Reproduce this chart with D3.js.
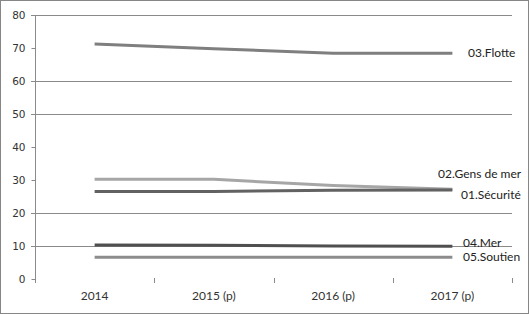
<!DOCTYPE html>
<html>
<head>
  <meta charset="utf-8">
  <title>Line chart</title>
  <style>
    body { margin: 0; background: #fff; }
    svg { display: block; font-family: Lato, "Open Sans", sans-serif; }
  </style>
</head>
<body>
  <svg width="529" height="314"></svg>
  <script src="https://cdn.jsdelivr.net/npm/d3@7"></script>
  <script>
  // data
  var years = ["2014", "2015 (p)", "2016 (p)", "2017 (p)"];
  var seriesNames = ["03.Flotte", "02.Gens de mer", "01.Sécurité", "04.Mer", "05.Soutien"];
  var flotte = [71.2, 69.8, 68.4, 68.4];
  var gensDeMer = [30.2, 30.2, 28.3, 27.2];
  var securite = [26.5, 26.5, 26.9, 27.0];
  var mer = [10.3, 10.2, 10.0, 9.9];
  var soutien = [6.6, 6.6, 6.6, 6.6];
  var yTicks = [0, 10, 20, 30, 40, 50, 60, 70, 80];
  var gridTicks = [10, 20, 50, 60, 80];

  var seriesValues = [flotte, gensDeMer, securite, mer, soutien];
  var colors = ["#7f7f7f", "#a6a6a6", "#626262", "#4f4f4f", "#8c8c8c"];
  // label placement: [x, y shift in px]
  var labelPos = [[468, 0], [438, -15], [461, 5], [463, -4], [463, 0]];

  var svg = d3.select("svg");
  var W = 529, H = 314;

  // outer frame
  svg.append("rect")
    .attr("x", 0.5).attr("y", 0.5)
    .attr("width", W - 1).attr("height", H - 1)
    .attr("fill", "#fff").attr("stroke", "#868686");

  var mLeft = 35, mRight = 512, mTop = 15, mBottom = 279;

  var x = d3.scaleBand().domain(years).range([mLeft, mRight]);
  var y = d3.scaleLinear().domain([0, 80]).range([mBottom, mTop]);

  // gridlines
  svg.append("g")
    .selectAll("line")
    .data(gridTicks)
    .enter()
    .append("line")
    .attr("x1", mLeft - 4).attr("x2", mRight)
    .attr("y1", function(d) { return Math.round(y(d)) + 0.5; })
    .attr("y2", function(d) { return Math.round(y(d)) + 0.5; })
    .attr("stroke", "#8a8a8a");

  // y axis
  var yAxis = svg.append("g")
    .attr("transform", "translate(" + (mLeft + 0.5) + ",0)")
    .call(d3.axisLeft(y).tickValues(yTicks).tickSize(4).tickPadding(6));
  yAxis.select(".domain").attr("stroke", "#8a8a8a").attr("d", "M0," + mTop + "V" + (mBottom + 4));
  yAxis.selectAll(".tick line").attr("stroke", "#8a8a8a");
  yAxis.selectAll("text")
    .attr("fill", "#333")
    .style("font-family", "'DejaVu Sans', sans-serif")
    .style("font-size", "10.5px");

  // x axis: only tick marks at band edges, no baseline
  var xAxis = svg.append("g")
    .attr("transform", "translate(0," + (mBottom + 1) + ")");
  xAxis.selectAll("line")
    .data(years)
    .enter()
    .append("line")
    .attr("x1", function(d) { return Math.round(x(d) + x.bandwidth()) + 0.5; })
    .attr("x2", function(d) { return Math.round(x(d) + x.bandwidth()) + 0.5; })
    .attr("y1", -2).attr("y2", 3)
    .attr("stroke", "#8a8a8a");
  xAxis.selectAll("text")
    .data(years)
    .enter()
    .append("text")
    .attr("x", function(d) { return x(d) + x.bandwidth() / 2; })
    .attr("y", 20)
    .attr("text-anchor", "middle")
    .attr("fill", "#333")
    .style("font-size", "12px")
    .text(function(d) { return d; });

  // lines
  var line = d3.line()
    .x(function(d, i) { return x(years[i]) + x.bandwidth() / 2; })
    .y(function(d) { return y(d); });

  svg.append("g")
    .selectAll("path")
    .data(seriesValues)
    .enter()
    .append("path")
    .attr("d", line)
    .attr("fill", "none")
    .attr("stroke", function(d, i) { return colors[i]; })
    .attr("stroke-width", 3);

  // series labels
  svg.append("g")
    .selectAll("text")
    .data(seriesNames)
    .enter()
    .append("text")
    .attr("x", function(d, i) { return labelPos[i][0]; })
    .attr("y", function(d, i) { return y(seriesValues[i][3]) + labelPos[i][1]; })
    .attr("dy", "0.35em")
    .attr("fill", "#222")
    .style("font-size", "12px")
    .text(function(d) { return d; });
  </script>
</body>
</html>
